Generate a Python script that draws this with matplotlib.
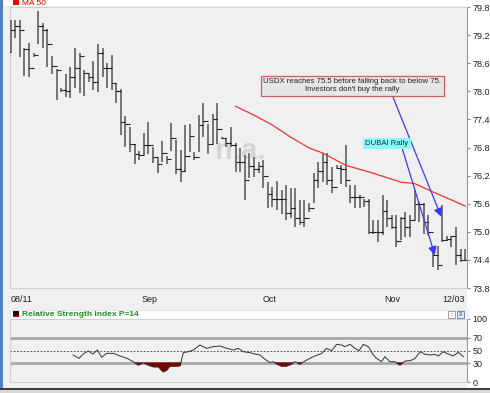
import numpy as np
import matplotlib.pyplot as plt
from matplotlib.patches import Rectangle

# daily bars (high, low, close)
highs = [79.52, 79.52, 79.52, 78.93, 79.04, 78.81, 79.71, 79.45, 79.32, 78.76,
         78.47, 78.06, 78.38, 78.51, 78.93, 78.81, 78.45,
         78.36, 78.65, 79.02, 78.92, 78.60, 78.77, 78.17, 78.05, 77.48, 77.24,
         76.87, 76.72, 77.10, 77.34, 76.81, 76.58, 76.94,
         76.62, 77.33, 76.97, 76.74, 77.28, 77.31, 76.71, 77.49, 77.76, 77.31,
         77.51, 77.74, 77.02, 77.00, 77.24, 76.89,
         76.78, 76.64, 76.68, 76.60, 76.49, 76.53, 76.07, 75.96, 76.09, 75.89,
         76.00, 75.93, 75.93, 75.68, 75.68, 75.61, 76.25, 76.49,
         76.69, 76.68, 76.39, 76.42, 76.42, 76.85, 76.00, 76.00, 75.78, 75.71,
         75.71, 75.25, 75.25, 75.78, 75.68, 75.36,
         75.36, 75.32, 75.43, 75.36, 75.89, 75.64, 75.62, 75.36, 74.64, 74.70,
         75.58, 74.90, 74.92, 75.11, 74.64, 74.64]
lows = [78.83, 79.13, 78.73, 78.33, 78.31, 78.74, 79.00, 78.93, 78.52, 78.38,
        77.81, 77.98, 77.88, 77.86, 78.06, 77.96, 77.90,
        78.20, 78.03, 77.99, 78.31, 78.06, 78.03, 77.74, 77.07, 76.81, 76.71,
        76.44, 76.53, 76.64, 76.67, 76.46, 76.25, 76.49,
        76.45, 76.73, 76.23, 76.07, 76.28, 76.71, 76.53, 76.71, 77.03, 76.67,
        76.87, 76.87, 76.98, 76.82, 76.82, 76.28,
        76.28, 75.68, 76.14, 76.18, 76.25, 75.93, 75.50, 75.53, 75.46, 75.39,
        75.25, 75.29, 75.11, 75.14, 75.11, 75.43, 75.61, 75.93,
        76.07, 76.00, 75.82, 76.35, 76.03, 75.95, 75.61, 75.50, 75.50, 75.53,
        74.96, 74.96, 74.79, 74.93, 75.11, 75.07,
        74.68, 74.82, 74.89, 74.89, 75.25, 75.21, 74.96, 74.93, 74.25, 74.18,
        74.78, 74.80, 74.68, 74.29, 74.36, 74.39]
closes = [79.30, 79.40, 79.30, 78.90, 78.50, 78.78, 79.40, 79.30, 79.00, 78.55,
          78.45, 78.02, 78.00, 78.30, 78.50, 78.75, 78.40,
          78.30, 78.20, 78.81, 78.50, 78.50, 78.17, 78.00, 77.34, 77.30, 76.87,
          76.67, 76.65, 76.85, 76.85, 76.60, 76.45, 76.69,
          76.55, 77.01, 76.35, 76.30, 76.62, 77.05, 76.60, 77.28, 77.36, 76.87,
          77.40, 77.20, 77.00, 76.90, 76.85, 76.50,
          76.50, 76.10, 76.40, 76.35, 76.40, 76.20, 75.80, 75.70, 75.70, 75.70,
          75.40, 75.50, 75.30, 75.20, 75.30, 75.50, 76.10, 76.30,
          76.50, 76.10, 75.95, 76.37, 76.35, 76.10, 75.75, 75.75, 75.75, 75.65,
          75.00, 75.00, 75.00, 75.45, 75.30, 75.10,
          74.80, 75.30, 75.10, 75.25, 75.60, 75.60, 75.20, 75.00, 74.50, 74.30,
          74.82, 74.85, 74.90, 74.50, 74.40, 74.40]
opens = [78.83] + closes[:-1]

# 50-day moving average, sampled off the red line
ma_idx = [49, 53, 57, 61, 65, 68, 73, 79, 85, 88, 92, 96, 99]
ma_val = [77.68, 77.49, 77.28, 77.02, 76.79, 76.68, 76.42, 76.25, 76.06,
          76.03, 75.85, 75.68, 75.55]

# RSI(14), sampled off the lower panel
rsi_idx = [13.6, 14.9, 15.8, 16.9, 17.9, 18.9, 19.8, 20.9, 22.4, 23.8, 25.3,
           26.7, 27.8, 28.9, 30.0, 31.1, 32.2, 33.2, 34.0, 34.7, 35.8, 36.9,
           37.6, 38.7, 39.8, 41.2, 42.7, 44.1, 45.6, 47.1, 48.5, 49.6, 50.7,
           52.1, 53.2, 54.3, 55.4, 56.5, 57.2, 58.0, 59.0, 60.1, 61.2, 61.9,
           63.0, 64.5, 65.9, 67.8, 68.8, 69.9, 71.0, 72.1, 72.8, 73.9, 75.0,
           75.9, 76.8, 77.9, 79.0, 79.7, 80.8, 81.5, 82.6, 83.7, 84.8, 85.9,
           87.1, 88.1, 89.2, 90.3, 91.4, 92.4, 93.2, 94.2, 95.0, 96.4, 97.5,
           98.6]
rsi_val = [42.9, 37.6, 44.4, 49.2, 44.4, 50.8, 39.2, 45.5, 45.5, 41.3, 37.6,
           32.3, 27.0, 30.7, 27.0, 24.3, 24.3, 16.4, 19.0, 25.4, 25.4, 25.9,
           46.6, 48.1, 50.8, 58.7, 53.4, 56.1, 57.1, 53.4, 50.8, 53.4, 48.1,
           46.6, 44.4, 42.9, 36.0, 30.7, 32.3, 28.6, 25.4, 25.4, 28.6, 32.3,
           28.6, 34.9, 40.2, 45.5, 53.4, 49.7, 59.8, 58.7, 56.1, 59.8, 53.4,
           49.7, 59.8, 56.1, 42.9, 37.6, 32.3, 40.2, 32.3, 32.3, 27.0, 33.3,
           33.9, 37.6, 48.1, 43.9, 42.9, 43.9, 41.3, 48.1, 45.5, 41.3, 47.1,
           40.2]

month_pos = [0, 30.3, 56.3, 83.1, 96.4]
month_labels = ["08/11", "Sep", "Oct", "Nov", "12/03"]

W, H = 490, 393


def box(x0, y0, x1, y1):
    return [x0 / W, 1 - y1 / H, (x1 - x0) / W, (y1 - y0) / H]


plt.rcParams['font.family'] = ['Liberation Sans', 'DejaVu Sans']
fig = plt.figure(figsize=(W / 100, H / 100), dpi=100, facecolor='white')

# panel backgrounds / frame bits
bg = fig.add_axes([0, 0, 1, 1], zorder=-5)
bg.set_xlim(0, W)
bg.set_ylim(H, 0)
bg.axis('off')
bg.add_patch(Rectangle((3, 6), 464, 294, facecolor='#f0f0f0', edgecolor='none'))
bg.add_patch(Rectangle((3, 300), 464, 88, facecolor='#f0f0f0', edgecolor='none'))
bg.add_patch(Rectangle((0, 0), 3, 388, facecolor='#4f7fbf', edgecolor='none'))
bg.add_patch(Rectangle((0, 388), W, 5, facecolor='#d8d8d8', edgecolor='none'))
bg.plot([0, W], [388.5, 388.5], color='#202020', lw=1.2)
bg.add_patch(Rectangle((10, 310), 457, 9, facecolor='white', edgecolor='#dddddd', lw=0.5))
bg.add_patch(Rectangle((13, 311), 6, 6, facecolor='#101010', edgecolor='none'))
bg.add_patch(Rectangle((13, 315.5), 6, 1.5, facecolor='#c00000', edgecolor='none'))
bg.text(22, 314.5, "Relative Strength Index P=14", color='#1f8f1f', fontsize=6,
        fontweight='bold', va='center', ha='left')
bg.add_patch(Rectangle((448, 311), 7, 7, facecolor='white', edgecolor='#909090', lw=0.6))
bg.add_patch(Rectangle((457, 311), 7, 7, facecolor='#dde8f8', edgecolor='#5577aa', lw=0.6))
bg.text(451.5, 314.5, "::", color='#cc2222', fontsize=4, ha='center', va='center')
bg.text(460.5, 314.5, "x", color='#335599', fontsize=5, ha='center', va='center')
bg.add_patch(Rectangle((13, 0), 6, 5, facecolor='#ee0000', edgecolor='none'))
bg.text(22, 3.2, "MA 50", color='#ee0000', fontsize=6, va='center', ha='left')

# price panel
ax = fig.add_axes(box(10, 7, 467, 288))
ax.set_facecolor('#f0f0f0')
x = np.arange(len(closes))
ax.vlines(x, lows, highs, color='#6a6a6a', lw=1.3, zorder=3)
ax.hlines(opens, x - 0.5, x, color='#111111', lw=0.8, zorder=4)
ax.hlines(closes, x, x + 0.5, color='#111111', lw=0.8, zorder=4)
ax.plot(ma_idx, ma_val, color='#ee3333', lw=0.9, zorder=5)

ax.text(50.0, 76.72, "n.a.", fontsize=21, fontweight='bold', color='#d4d4d4',
        ha='center', va='center', zorder=1)

ax.annotate("USDX reaches 75.5 before falling back to below 75.\nInvestors don't buy the rally",
            xy=(93.8, 75.32), xytext=(74.4, 78.12), fontsize=5.6, color='#222222',
            ha='center', va='center', zorder=6,
            bbox=dict(boxstyle='square,pad=0.3', facecolor='#e6e6e6', edgecolor='#d06060', lw=0.9),
            arrowprops=dict(arrowstyle='-|>,head_length=0.9,head_width=0.45', color='#3a3aff', lw=0.9,
                            shrinkA=0, shrinkB=0, relpos=(0.72, 0)))
ax.annotate("DUBAI Rally", xy=(92.4, 74.50), xytext=(81.9, 76.885), fontsize=5.6,
            color='#222222', ha='center', va='center', zorder=6,
            bbox=dict(boxstyle='square,pad=0.3', facecolor='#88ffff', edgecolor='none'),
            arrowprops=dict(arrowstyle='-|>,head_length=0.9,head_width=0.45', color='#3a3aff', lw=0.9,
                            shrinkA=0, shrinkB=0, relpos=(0.85, 0)))

ax.set_xlim(-0.15, 99.4)
ax.set_ylim(73.8, 79.8)
ax.yaxis.tick_right()
yt = [73.8, 74.4, 75.0, 75.6, 76.2, 76.8, 77.4, 78.0, 78.6, 79.2, 79.8]
ax.set_yticks(yt)
ax.set_yticklabels([f"{v:.1f}" for v in yt], fontsize=6.5, color='#222222')
ax.tick_params(axis='y', length=2, pad=2, color='#888888')
ax.set_xticks([])
for p, lab in zip(month_pos, month_labels):
    ax.text(p, -0.025, lab, transform=ax.get_xaxis_transform(), fontsize=6.5,
            color='#222222', ha='left' if p == 0 else 'center', va='top')
for s in ax.spines.values():
    s.set_color('#cfcfcf')
    s.set_linewidth(0.8)
ax.spines['right'].set_color('#999999')

# RSI panel
ax2 = fig.add_axes(box(10, 319, 467, 382))
ax2.set_facecolor('#f0f0f0')
ax2.axhline(70, color='#a8a8a8', lw=2)
ax2.axhline(30, color='#a8a8a8', lw=2)
ax2.axhline(50, color='#333333', lw=0.6, ls=(0, (2, 2)))
r = np.array(rsi_val)
ax2.fill_between(rsi_idx, r, 30, where=r < 30, interpolate=True, color='#7a0000', zorder=3)
ax2.plot(rsi_idx, r, color='#333333', lw=0.7, zorder=4)
ax2.set_xlim(-0.15, 99.4)
ax2.set_ylim(0, 100)
ax2.yaxis.tick_right()
ax2.set_yticks([0, 30, 50, 70, 100])
ax2.tick_params(axis='y', labelsize=6.5, labelcolor='#222222', length=2, pad=2, color='#888888')
ax2.set_xticks([])
for s in ax2.spines.values():
    s.set_color('#cfcfcf')
    s.set_linewidth(0.8)
ax2.spines['right'].set_color('#999999')

fig.savefig("out.png", dpi=100, facecolor='white')
